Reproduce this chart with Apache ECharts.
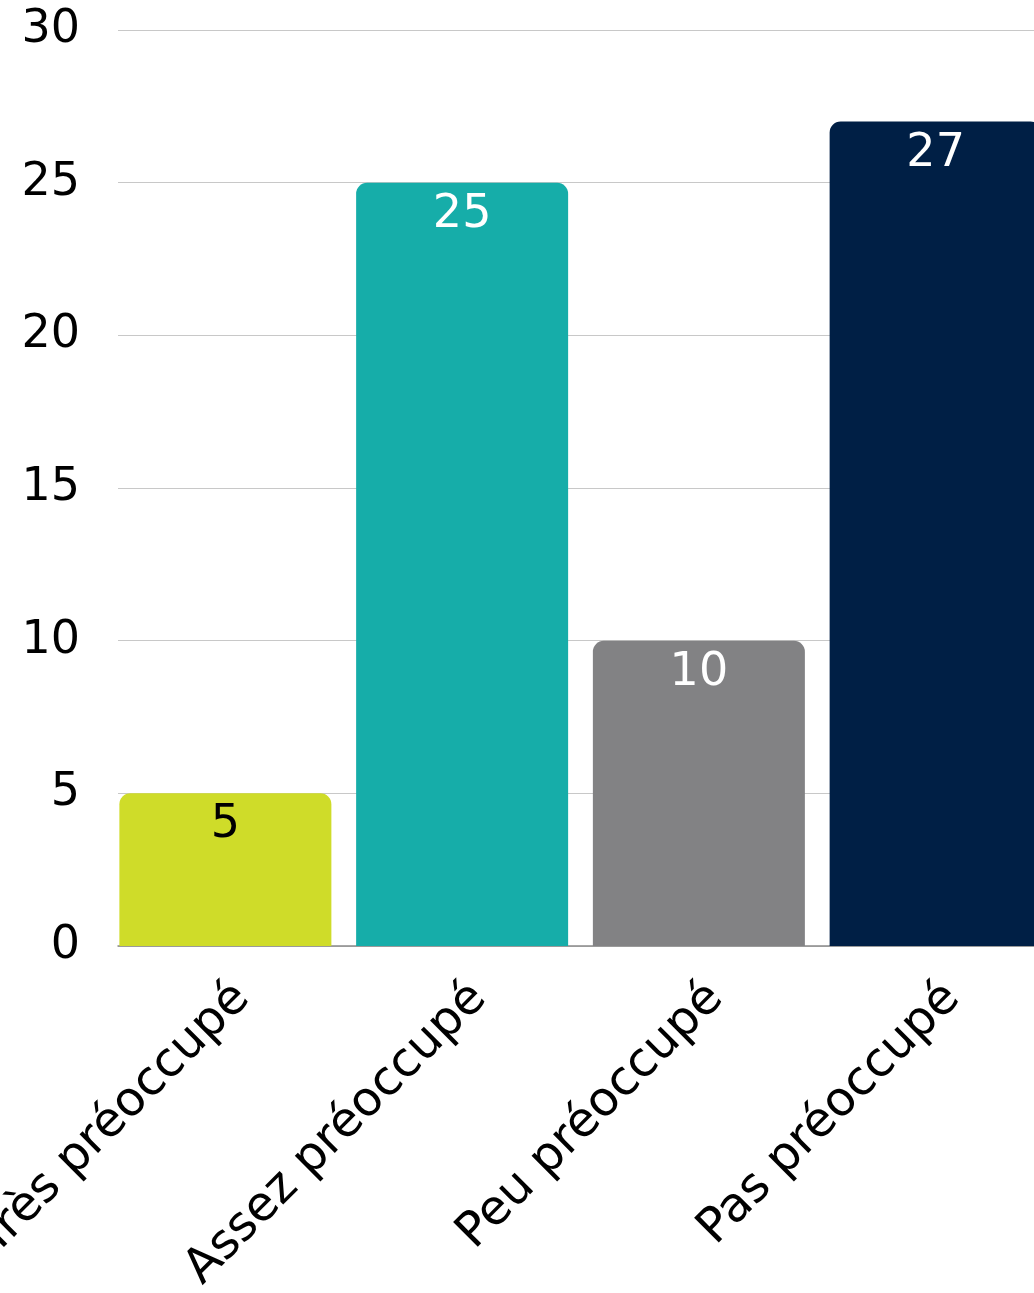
<!DOCTYPE html>
<html>
<head>
<meta charset="utf-8">
<script src="https://cdn.jsdelivr.net/npm/echarts@6/dist/echarts.min.js"></script>
<style>
html,body{margin:0;padding:0;background:#fff;}
#chart{width:1034px;height:1293px;}
</style>
</head>
<body>
<div id="chart"></div>
<script>
const categories = ["Très préoccupé", "Assez préoccupé", "Peu préoccupé", "Pas préoccupé"];
const values = [5, 25, 10, 27];
const barColors = ["#CFDC29", "#16ADA9", "#828284", "#001F45"];
const labelColors = ["#000000", "#FFFFFF", "#FFFFFF", "#FFFFFF"];
const yTicks = [0, 5, 10, 15, 20, 25, 30];

const FONT = "DejaVu Sans";
const chart = echarts.init(document.getElementById('chart'));
chart.setOption({
  animation: false,
  grid: [
    { left: 118, width: 916, top: 30, height: 916, containLabel: false, outerBoundsMode: 'none' },
    { left: 107, width: 947, top: 30, height: 916, containLabel: false, outerBoundsMode: 'none' }
  ],
  xAxis: [
    { gridIndex: 0, type: 'value', min: 0, max: 1,
      axisLine: { show: true, lineStyle: { color: '#8a8a8a', width: 1.5 } },
      axisTick: { show: false }, axisLabel: { show: false }, splitLine: { show: false } },
    { gridIndex: 1, type: 'category', data: categories,
      axisLine: { show: false }, axisTick: { show: false },
      axisLabel: { rotate: 45, margin: 28, verticalAlign: 'top', fontFamily: FONT, fontSize: 48, color: '#000', interval: 0, hideOverlap: false } }
  ],
  yAxis: [
    { gridIndex: 0, type: 'value', min: yTicks[0], max: yTicks[yTicks.length - 1], interval: 5,
      axisLine: { show: false }, axisTick: { show: false },
      axisLabel: { margin: 38, fontFamily: FONT, fontSize: 46, color: '#000' },
      splitLine: { show: true, lineStyle: { color: '#c8c8c8', width: 1.2 } } },
    { gridIndex: 1, type: 'value', min: yTicks[0], max: yTicks[yTicks.length - 1], interval: 5,
      show: false, splitLine: { show: false } }
  ],
  series: [{
    type: 'bar',
    xAxisIndex: 1, yAxisIndex: 1,
    barWidth: 212,
    data: values.map((v, i) => ({
      value: v,
      itemStyle: { color: barColors[i], borderRadius: [11, 11, 0, 0] },
      label: { color: labelColors[i] }
    })),
    label: { show: true, position: 'insideTop', distance: 9, fontFamily: FONT, fontSize: 46 }
  }]
});
</script>
</body>
</html>
